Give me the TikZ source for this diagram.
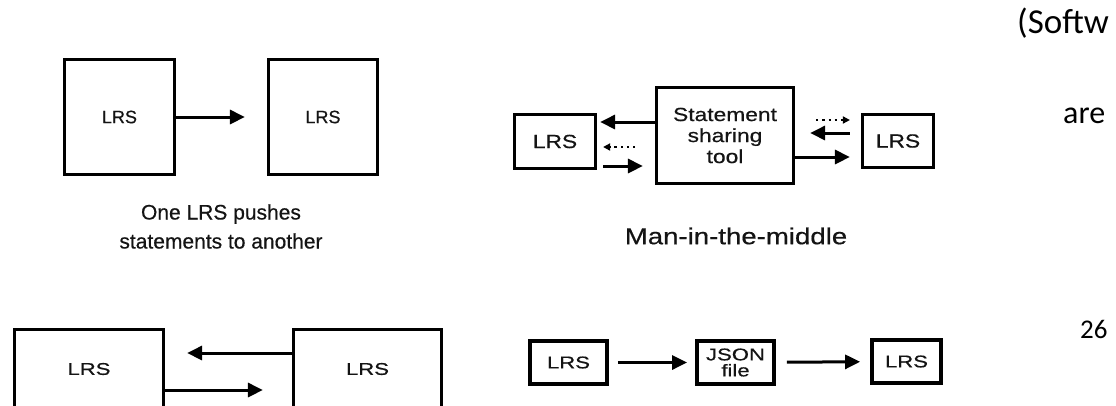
\documentclass[tikz,border=0pt]{standalone}
\usepackage{fontspec}
\usepackage{xcolor}
\usepackage{tikz}
\usetikzlibrary{calc,arrows.meta}
\setmainfont[FakeBold=0.5]{Liberation Sans}
\newfontfamily\wideA[FakeStretch=1.2,FakeBold=0.5]{Liberation Sans}
\newfontfamily\wideB[FakeStretch=1.3,FakeBold=0.6]{Liberation Sans}
\newfontfamily\pagefont{Carlito}
\definecolor{ink}{HTML}{000000}
\definecolor{inktext}{HTML}{141414}
\tikzset{
  box/.style={draw=ink, line width=3.2pt, fill=white, inner sep=0pt, text=inktext},
  boxb/.style={box, line width=3.8pt},
  arr/.style={draw=ink, line width=3pt, -{Triangle[length=15pt,width=14pt]}},
  darr/.style={draw=ink, line width=2.2pt, dash pattern=on 2.2pt off 4pt, -{Triangle[length=7pt,width=7pt]}},
  lab/.style={text=inktext, align=center, inner sep=0pt},
  side/.style={text=black, anchor=base west, inner sep=0pt},
}

\begin{document}
\begin{tikzpicture}[x=1pt,y=-1pt]
  \useasboundingbox (0,0) rectangle (1116,405);
  \clip (0,0) rectangle (1116,405);

  % one LRS pushes to another
  \node[box, minimum width=110pt, minimum height=115pt, font=\fontsize{18}{20}\selectfont] (push1) at (119.5,117) {LRS};
  \node[box, minimum width=109pt, minimum height=115pt, font=\fontsize{18}{20}\selectfont] (push2) at (323,117) {LRS};
  \draw[arr, shorten >=22pt] (push1.east) -- (push2.west);
  \node[lab, font=\fontsize{21}{29}\selectfont] (pushcap) at (221,226.5) {One LRS pushes\\statements to another};

  % man in the middle
  \node[box, minimum width=81pt, minimum height=54pt, font=\wideA\fontsize{19}{20}\selectfont] (mitmL) at (555,141.5) {LRS};
  \node[box, minimum width=137pt, minimum height=96pt, font=\wideA\fontsize{19}{21}\selectfont, align=center] (mitm) at (725,135.5) {Statement\\sharing\\tool};
  \node[box, minimum width=71pt, minimum height=53pt, font=\wideA\fontsize{19}{20}\selectfont] (mitmR) at (898,141) {LRS};
  \draw[arr] ($(mitm.west)+(0,-13.5)$) -- ($(mitmL.east)+(3,-19.5)$);
  \draw[darr] ($(mitmL.east)+(38,5.5)$) -- ($(mitmL.east)+(6,5.5)$);
  \draw[arr] ($(mitmL.east)+(6,24.5)$) -- ($(mitm.west)+(-12,30.5)$);
  \draw[darr] ($(mitm.east)+(21,-15.5)$) -- ($(mitmR.west)+(-11,-21)$);
  \draw[arr] ($(mitmR.west)+(-11,-8)$) -- ($(mitm.east)+(15,-2.5)$);
  \draw[arr] ($(mitm.east)+(0,21.5)$) -- ($(mitmR.west)+(-11,16)$);
  \node[lab, font=\wideA\fontsize{23}{26}\selectfont] (mitmcap) at (736,236) {Man-in-the-middle};

  % two way sync
  \node[box, minimum width=149pt, minimum height=79pt, font=\wideB\fontsize{17}{20}\selectfont] (sync1) at (89,369) {LRS};
  \node[box, minimum width=148pt, minimum height=79pt, font=\wideB\fontsize{17}{20}\selectfont] (sync2) at (367.5,369) {LRS};
  \draw[arr] ($(sync2.west)+(0,-16)$) -- ($(sync1.east)+(22,-16)$);
  \draw[arr] ($(sync1.east)+(0,21)$) -- ($(sync2.west)+(-29,21)$);

  % export to file
  \node[boxb, minimum width=77pt, minimum height=43pt, font=\wideB\fontsize{17}{20}\selectfont] (file1) at (568.5,362.5) {LRS};
  \node[boxb, minimum width=77pt, minimum height=43pt, font=\wideB\fontsize{17}{16}\selectfont, align=center] (json) at (735.5,362.5) {JSON\\file};
  \node[boxb, minimum width=69pt, minimum height=43pt, font=\wideB\fontsize{17}{20}\selectfont] (file2) at (906.5,361.5) {LRS};
  \draw[arr, shorten <=9pt, shorten >=8pt] (file1) -- (json);
  \draw[arr, shorten <=11pt, shorten >=10pt] (json) -- (file2);

  % page text at the right edge
  \node[side, font=\pagefont\fontsize{35}{40}\selectfont] (pgA) at (1017,33) {(Softw};
  \node[side, font=\pagefont\fontsize{32}{38}\selectfont] (pgB) at (1063,123) {are};
  \node[side, font=\pagefont\fontsize{27}{32}\selectfont] (pgN) at (1080,338) {26};
\end{tikzpicture}
\end{document}
